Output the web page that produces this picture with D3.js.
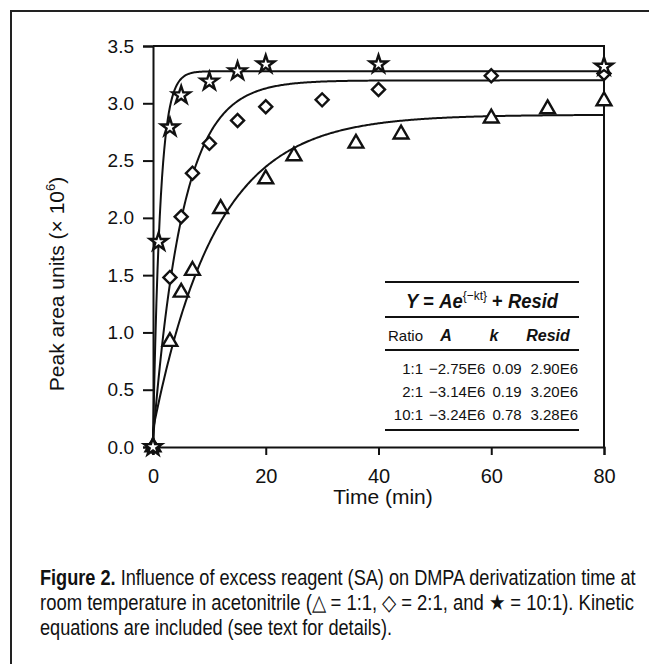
<!DOCTYPE html>
<html>
<head>
<meta charset="utf-8">
<script src="https://cdn.jsdelivr.net/npm/d3@7"></script>
<style>
  body { margin: 0; background: #fff; }
  svg { display: block; }
</style>
</head>
<body>
<svg id="chart" width="649" height="664"></svg>
<script>
// data (time in min, peak area in 1e6 units)
const ratios = ['1:1', '2:1', '10:1']
const t11 = [0, 3, 5, 7, 12, 20, 25, 36, 44, 60, 70, 80]
const y11 = [0, 0.92, 1.35, 1.54, 2.08, 2.34, 2.54, 2.65, 2.73, 2.87, 2.95, 3.02]
const t21 = [0, 3, 5, 7, 10, 15, 20, 30, 40, 60, 80]
const y21 = [0, 1.48, 2.01, 2.39, 2.65, 2.85, 2.97, 3.03, 3.12, 3.24, 3.26]
const t101 = [0, 1, 3, 5, 10, 15, 20, 40, 80]
const y101 = [0, 1.79, 2.79, 3.07, 3.19, 3.28, 3.34, 3.34, 3.32]

// fit table  Y = A e^(-kt) + Resid
const fitA = [-2.75, -3.14, -3.24]
const fitK = [0.09, 0.19, 0.78]
const fitResid = [2.90, 3.20, 3.28]
const fitALabels = ['\u22122.75E6', '\u22123.14E6', '\u22123.24E6']
const fitKLabels = ['0.09', '0.19', '0.78']
const fitRLabels = ['2.90E6', '3.20E6', '3.28E6']

const yTicks = [0, 0.5, 1.0, 1.5, 2.0, 2.5, 3.0, 3.5]
const xTicks = [0, 20, 40, 60, 80]

const captionLines = [
  ['Figure 2.', ' Influence of excess reagent (SA) on DMPA derivatization time at'],
  ['', 'room temperature in acetonitrile (\u25B3 = 1:1, \u25C7 = 2:1, and \u2605 = 10:1). Kinetic'],
  ['', 'equations are included (see text for details).']
]

const svg = d3.select('#chart')
const font = 'Liberation Sans, Arial, sans-serif'

// outer figure border (top + left)
svg.append('path')
  .attr('d', 'M11,664 L11,11 L649,11')
  .attr('fill', 'none').attr('stroke', '#222').attr('stroke-width', 2)

const x = d3.scaleLinear().domain([0, 80]).range([153, 604])
const y = d3.scaleLinear().domain([0, 3.5]).range([447, 46])

// frame top / right
svg.append('path')
  .attr('d', `M${x(0)},${y(3.5)} L${x(80)},${y(3.5)} L${x(80)},${y(0)}`)
  .attr('fill', 'none').attr('stroke', '#111').attr('stroke-width', 2)

const yAxis = svg.append('g')
  .attr('transform', `translate(${x(0)},0)`)
  .call(d3.axisLeft(y).tickValues(yTicks).tickSize(10).tickPadding(9).tickFormat(d3.format('.1f')))
yAxis.select('.domain').attr('stroke', '#111').attr('stroke-width', 2)
yAxis.selectAll('.tick line').attr('stroke', '#111').attr('stroke-width', 2)
yAxis.selectAll('.tick text').attr('font-family', font).attr('font-size', 19).attr('fill', '#111')

const xAxis = svg.append('g')
  .attr('transform', `translate(0,${y(0)})`)
  .call(d3.axisBottom(x).tickValues(xTicks).tickSize(8).tickPadding(14).tickFormat(d3.format('d')))
xAxis.select('.domain').attr('stroke', '#111').attr('stroke-width', 2)
xAxis.selectAll('.tick line').attr('stroke', '#111').attr('stroke-width', 2)
xAxis.selectAll('.tick text').attr('font-family', font).attr('font-size', 20).attr('fill', '#111')

// axis titles
const yLab = svg.append('text')
  .attr('transform', 'translate(64,284) rotate(-90)')
  .attr('text-anchor', 'middle')
  .attr('font-family', font).attr('font-size', 21).attr('fill', '#111')
yLab.append('tspan').text('Peak area units (\u00D7 10')
yLab.append('tspan').attr('font-size', 13).attr('dy', -9).text('6')
yLab.append('tspan').attr('dy', 9).text(')')

svg.append('text')
  .attr('x', 383).attr('y', 504)
  .attr('text-anchor', 'middle')
  .attr('font-family', font).attr('font-size', 21).attr('fill', '#111')
  .text('Time (min)')

// fitted curves
const tFine = d3.range(0, 80.001, 0.2)
const line = d3.line().x(d => x(d[0])).y(d => y(d[1]))
ratios.forEach((r, i) => {
  const pts = [[0, 0]].concat(tFine.map(t => [t, fitA[i] * Math.exp(-fitK[i] * t) + fitResid[i]]))
  svg.append('path')
    .attr('d', line(pts))
    .attr('fill', 'none').attr('stroke', '#111').attr('stroke-width', 2)
})

// markers
const series = [
  { t: t11, v: y11, sym: d3.symbol().type(d3.symbolTriangle).size(95), rot: 0 },
  { t: t21, v: y21, sym: d3.symbol().type(d3.symbolSquare).size(85), rot: 45 },
  { t: t101, v: y101, sym: d3.symbol().type(d3.symbolStar).size(95), rot: 0 }
]
series.forEach(s => {
  svg.append('g').selectAll('path')
    .data(s.t.map((t, j) => [t, s.v[j]]))
    .join('path')
    .attr('d', s.sym)
    .attr('transform', d => `translate(${x(d[0])},${y(d[1])}) rotate(${s.rot})`)
    .attr('fill', '#fff').attr('stroke', '#111').attr('stroke-width', 2.4)
})

// table
const tbl = svg.append('g')
const rule = yy => tbl.append('line').attr('x1', 385).attr('x2', 579).attr('y1', yy).attr('y2', yy)
  .attr('stroke', '#111').attr('stroke-width', 2)
;[282, 317, 350, 430].forEach(rule)

const eq = tbl.append('text').attr('x', 482).attr('y', 308).attr('text-anchor', 'middle')
  .attr('font-family', font).attr('font-size', 20).attr('font-weight', 'bold').attr('fill', '#111')
  .attr('transform', 'translate(482,0) scale(0.92,1) translate(-482,0)')
eq.append('tspan').attr('font-style', 'italic').text('Y')
eq.append('tspan').text(' = ')
eq.append('tspan').attr('font-style', 'italic').text('Ae')
eq.append('tspan').attr('font-size', 13).attr('font-weight', 'normal').attr('dy', -8).text('{\u2212kt}')
eq.append('tspan').attr('dy', 8).text(' + ')
eq.append('tspan').attr('font-style', 'italic').text('Resid')

const hdrY = 341
tbl.append('text').attr('x', 388).attr('y', hdrY).attr('font-family', font).attr('font-size', 15)
  .attr('fill', '#111').text('Ratio')
;[['A', 446], ['k', 494], ['Resid', 548]].forEach(([s, xx]) => {
  tbl.append('text').attr('x', xx).attr('y', hdrY).attr('text-anchor', 'middle')
    .attr('font-family', font).attr('font-size', 16).attr('font-weight', 'bold')
    .attr('font-style', 'italic').attr('fill', '#111').text(s)
})

const rowY = [374, 397, 420]
ratios.forEach((r, i) => {
  const cells = [[r, 423, 'end'], [fitALabels[i], 429, 'start'], [fitKLabels[i], 507, 'middle'], [fitRLabels[i], 578, 'end']]
  cells.forEach(([s, xx, anc]) => {
    tbl.append('text').attr('x', xx).attr('y', rowY[i]).attr('text-anchor', anc)
      .attr('font-family', font).attr('font-size', 15).attr('fill', '#111')
      .text(s)
  })
})

// caption
const capFont = 'Liberation Sans Narrow, Liberation Sans, Arial, sans-serif'
const capY = [585, 610, 635]
const capW = [596, 596, null]
let scale1 = 1
captionLines.forEach((ln, i) => {
  const g = svg.append('g')
  const tx = g.append('text').attr('x', 0).attr('y', 0)
    .attr('font-family', capFont).attr('font-size', 22).attr('fill', '#111')
  if (ln[0]) tx.append('tspan').attr('font-weight', 'bold').text(ln[0])
  tx.append('tspan').text(ln[1])
  const w = tx.node().getComputedTextLength()
  const sc = capW[i] ? capW[i] / w : scale1
  if (i === 0) scale1 = sc
  g.attr('transform', `translate(40,${capY[i]}) scale(${sc},1)`)
})
</script>
</body>
</html>
